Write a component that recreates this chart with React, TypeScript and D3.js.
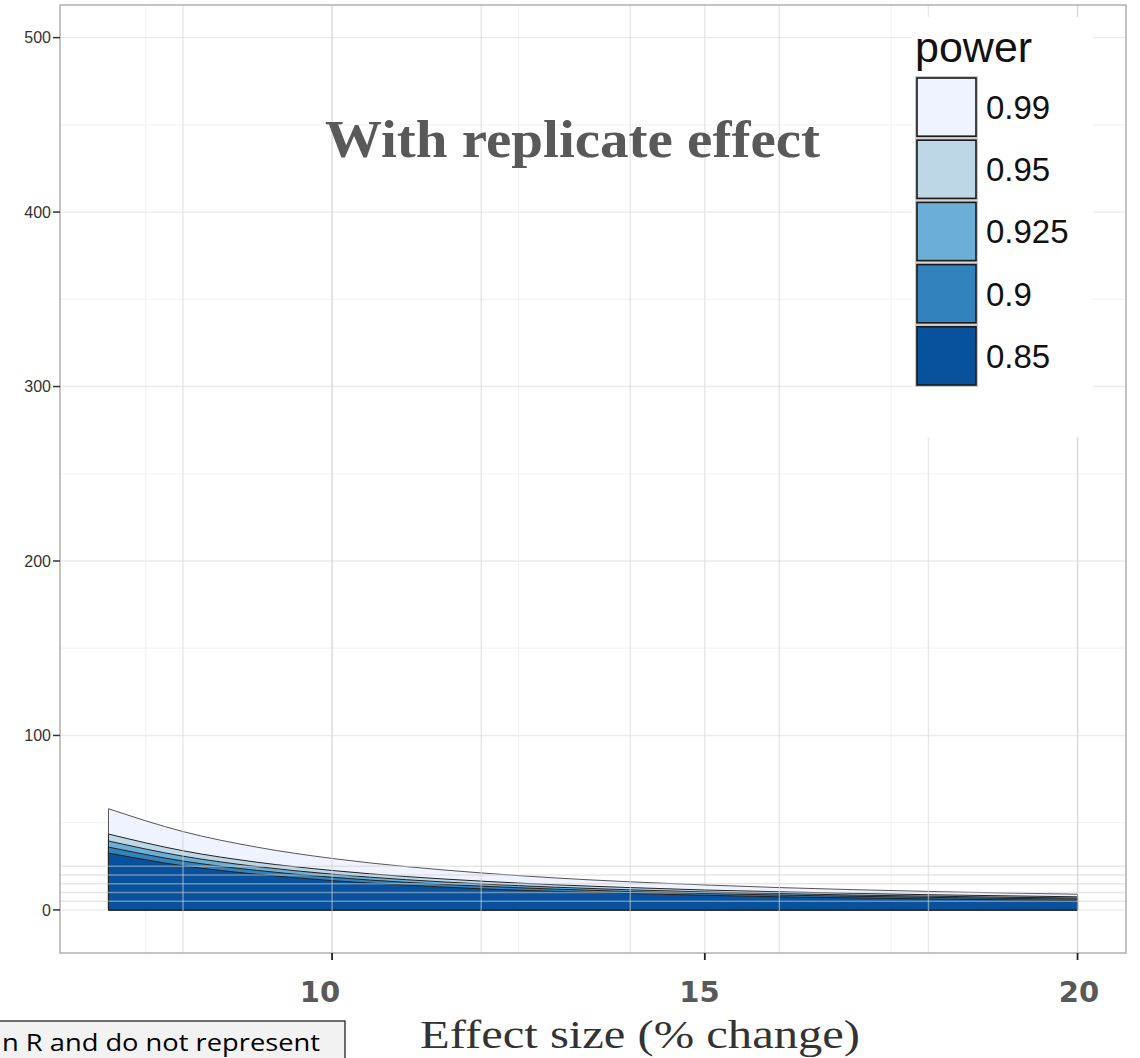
import React from "react";
import * as d3 from "d3";

// Effect size (% change) at which the required sample size was computed
const effectSizes = [7, 8, 9, 10, 11, 12, 13, 14, 15, 16, 17, 18, 19, 20];

// Required sample size for each target power level
const power099 = [58.0, 44.9, 35.9, 29.5, 24.8, 21.2, 18.3, 16.1, 14.3, 12.8, 11.6, 10.6, 9.7, 9.0];
const power095 = [43.5, 33.9, 27.3, 22.6, 19.1, 16.5, 14.4, 12.8, 11.4, 10.4, 9.5, 8.7, 8.1, 7.5];
const power0925 = [39.5, 30.8, 24.8, 20.5, 17.3, 14.9, 13.0, 11.5, 10.3, 9.4, 8.5, 7.9, 7.3, 6.8];
const power090 = [36.0, 28.0, 22.6, 18.7, 15.8, 13.6, 11.9, 10.5, 9.4, 8.5, 7.8, 7.2, 6.6, 6.2];
const power085 = [32.6, 25.3, 20.4, 16.8, 14.2, 12.1, 10.6, 9.4, 8.4, 7.5, 6.9, 6.3, 5.8, 5.4];

const powerLabels = ["0.99", "0.95", "0.925", "0.9", "0.85"];
const powerColors = ["#eff3ff", "#bdd7e7", "#6baed6", "#3182bd", "#08519c"];
const powerSeries = [power099, power095, power0925, power090, power085];

// Axis ticks
const yMajorTicks = [0, 100, 200, 300, 400, 500];
const yMinorTicks = [50, 150, 250, 350, 450];
const xMajorTicks = [10, 15, 20];
const xMinorTicks = [7.5, 12.5, 17.5];
// Extra reference grid drawn over the areas
const xRefLines = [8, 10, 12, 14, 16, 18, 20];
const yRefLines = [5, 10, 15, 20, 25];

const W = 1140;
const H = 1058;
const panel = { left: 60, right: 1126, top: 5, bottom: 953 };

export default function App() {
  const x = d3.scaleLinear().domain([6.35, 20.65]).range([panel.left, panel.right]);
  const y = d3.scaleLinear().domain([-24.7, 518.7]).range([panel.bottom, panel.top]);
  // x tick labels sit on a slightly different horizontal scale
  const xLab = d3.scaleLinear().domain([10, 20]).range([320, 1079]);

  const area = d3
    .area<[number, number]>()
    .x((d) => x(d[0]))
    .y0(y(0))
    .y1((d) => y(d[1]))
    .curve(d3.curveMonotoneX);

  const legendX = 916;
  const legendTop = 77;
  const keyH = 62.2;
  const keyW = 61;

  return (
    <svg
      width={W}
      height={H}
      style={{ position: "absolute", left: 0, top: 0, background: "#fff" }}
      fontFamily="'Liberation Sans', Arial, sans-serif"
    >
      <rect x={0} y={0} width={W} height={H} fill="#fff" />

      {/* panel grid */}
      {yMinorTicks.map((t) => (
        <line key={"ymin" + t} x1={panel.left} x2={panel.right} y1={y(t)} y2={y(t)} stroke="#f3f3f3" strokeWidth={1.2} />
      ))}
      {xMinorTicks.map((t) => (
        <line key={"xmin" + t} x1={x(t)} x2={x(t)} y1={panel.top} y2={panel.bottom} stroke="#f3f3f3" strokeWidth={1.2} />
      ))}
      {yMajorTicks.map((t) => (
        <line key={"ymaj" + t} x1={panel.left} x2={panel.right} y1={y(t)} y2={y(t)} stroke="#ebebeb" strokeWidth={1.4} />
      ))}
      {xMajorTicks.map((t) => (
        <line key={"xmaj" + t} x1={x(t)} x2={x(t)} y1={panel.top} y2={panel.bottom} stroke="#e6e6e6" strokeWidth={1.4} />
      ))}

      {/* sample size areas, largest power drawn first */}
      {powerSeries.map((s, i) => (
        <path
          key={"area" + i}
          d={area(effectSizes.map((e, j) => [e, s[j]] as [number, number])) || ""}
          fill={powerColors[i]}
          stroke={i === 0 ? "#555" : "#222"}
          strokeWidth={1}
          strokeLinejoin="round"
        />
      ))}

      {/* reference grid over the areas */}
      {xRefLines.map((t) => (
        <line key={"xref" + t} x1={x(t)} x2={x(t)} y1={panel.top} y2={panel.bottom} stroke="#d4d4d4" strokeOpacity={0.55} strokeWidth={1.4} />
      ))}
      {yRefLines.map((t) => (
        <line key={"yref" + t} x1={panel.left} x2={panel.right} y1={y(t)} y2={y(t)} stroke="#d0d0d0" strokeOpacity={0.5} strokeWidth={1.4} />
      ))}

      {/* panel border */}
      <rect
        x={panel.left}
        y={panel.top}
        width={panel.right - panel.left}
        height={panel.bottom - panel.top}
        fill="none"
        stroke="#b0b0b0"
        strokeWidth={1.5}
      />

      {/* y axis */}
      {yMajorTicks.map((t) => (
        <g key={"yt" + t}>
          <line x1={panel.left - 7} x2={panel.left} y1={y(t)} y2={y(t)} stroke="#333" strokeWidth={1.5} />
          <text x={panel.left - 9} y={y(t)} dy="0.36em" textAnchor="end" fontSize={16} fill="#333">
            {t}
          </text>
        </g>
      ))}

      {/* x axis */}
      {xMajorTicks.map((t) => (
        <g key={"xt" + t}>
          <line x1={x(t)} x2={x(t)} y1={panel.bottom} y2={panel.bottom + 7} stroke="#222" strokeWidth={1.8} />
          <text
            x={xLab(t)}
            y={1002}
            textAnchor="middle"
            fontFamily="'DejaVu Sans', sans-serif"
            fontWeight="bold"
            fontSize={29}
            fill="#595959"
          >
            {t}
          </text>
        </g>
      ))}

      {/* title */}
      <text
        x={325}
        y={157}
        fontFamily="'Liberation Serif', 'DejaVu Serif', serif"
        fontWeight="bold"
        fontSize={52}
        fill="#595959"
        textLength={495}
        lengthAdjust="spacingAndGlyphs"
      >
        With replicate effect
      </text>

      {/* legend */}
      <rect x={912} y={17} width={181} height={420} fill="#fff" />
      <text x={915} y={62} fontSize={43} fill="#111">
        power
      </text>
      {powerLabels.map((lab, i) => {
        const ky = legendTop + i * keyH;
        return (
          <g key={"leg" + i}>
            <rect x={legendX - 1} y={ky - 1} width={keyW + 2} height={keyH} fill="#c8c8c8" />
            <rect x={legendX + 1} y={ky + 1} width={keyW - 2} height={keyH - 4} fill={powerColors[i]} stroke="#1a1a1a" strokeWidth={1.6} />
            <text x={986} y={ky + keyH / 2 - 1} dy="0.36em" fontSize={33} fill="#111">
              {lab}
            </text>
          </g>
        );
      })}

      {/* x axis title */}
      <text
        x={420}
        y={1048}
        fontFamily="'Liberation Serif', 'DejaVu Serif', serif"
        fontSize={41}
        fill="#333"
        textLength={440}
        lengthAdjust="spacingAndGlyphs"
      >
        Effect size (% change)
      </text>

      {/* note box */}
      <rect x={-2} y={1021} width={347} height={60} fill="#f2f2f2" stroke="#111" strokeWidth={1.2} />
      <text
        x={2}
        y={1051}
        fontFamily="'Open Sans', 'Noto Sans', sans-serif"
        fontSize={24}
        fill="#000"
        textLength={318}
        lengthAdjust="spacingAndGlyphs"
      >
        n R and do not represent
      </text>
    </svg>
  );
}
